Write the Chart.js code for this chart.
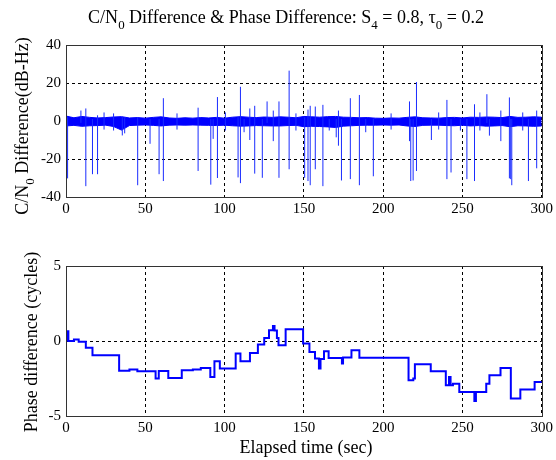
<!DOCTYPE html>
<html lang="en">
<head>
<meta charset="UTF-8" />
<title>C/N0 Difference &amp; Phase Difference</title>
<script src="https://cdn.jsdelivr.net/npm/chart.js"></script>
<style>
  body { margin: 0; background: #fff; font-family: "Liberation Serif", serif; }
  #wrap { position: relative; width: 556px; height: 460px; overflow: hidden; }
  canvas { position: absolute; left: 0; }
  .lbl { position: absolute; white-space: nowrap; color: #000; font-size: 18px; line-height: 1; }
  .center { transform: translate(-50%, -50%); }
  .rot { transform: translate(-50%, -50%) rotate(-90deg); }
  sub { font-size: 0.72em; vertical-align: -0.45em; line-height: 0; }
</style>
</head>
<body>
<div id="wrap">
  <canvas id="cnChart" width="556" height="230" style="top:0"></canvas>
  <canvas id="phaseChart" width="556" height="230" style="top:230px"></canvas>
  <div class="lbl center" style="left:286px; top:17px;">C/N<sub>0</sub> Difference &amp; Phase Difference: S<sub>4</sub> = 0.8, &tau;<sub>0</sub> = 0.2</div>
  <div class="lbl rot" style="left:22px; top:126px;">C/N<sub>0</sub> Difference(dB-Hz)</div>
  <div class="lbl rot" style="left:31px; top:342px;">Phase difference (cycles)</div>
  <div class="lbl center" style="left:306px; top:447px;">Elapsed time (sec)</div>
</div>

<script>
// ---- C/N0 difference: noise band envelope (every 5 s) ----
const bandTime = [0,5,10,15,20,25,30,35,40,45,50,55,60,65,70,75,80,85,90,95,100,105,110,115,120,125,130,135,140,145,150,
  155,160,165,170,175,180,185,190,195,200,205,210,215,220,225,230,235,240,245,250,255,260,265,270,275,280,285,290,295,300];
const bandHi = [2.6,1.7,2.4,1.9,1.6,1.8,2.1,2.3,1.6,1.8,1.5,1.9,2.2,1.6,1.4,1.7,1.5,1.8,1.6,1.9,1.5,2.0,2.3,2.0,1.8,2.1,1.9,2.2,2.0,1.7,2.4,
  2.2,2.0,2.3,2.4,2.0,1.9,1.7,1.8,1.5,1.4,1.6,1.5,1.9,2.2,1.7,1.6,1.5,1.8,1.9,1.6,2.0,1.9,2.1,2.0,1.8,2.4,1.9,2.0,2.2,2.0];
const bandLo = [-2.6,-2.3,-2.8,-2.5,-2.4,-2.2,-2.9,-4.8,-2.4,-2.2,-2.1,-2.3,-2.6,-2.2,-2.1,-2.2,-2.1,-2.2,-2.3,-2.4,-2.2,-2.5,-2.7,-2.6,-2.4,-2.5,-2.6,-2.6,-2.4,-2.3,-3.0,
  -2.8,-2.9,-3.1,-3.4,-2.7,-2.5,-2.3,-2.2,-2.2,-2.1,-2.2,-2.1,-2.6,-2.9,-2.3,-2.2,-2.2,-2.4,-2.5,-2.2,-2.6,-2.4,-2.7,-2.6,-2.4,-3.0,-2.5,-2.6,-2.8,-2.6];

// ---- C/N0 difference: spikes (time, low end, high end) ----
const spikeTime = [1.0,9.4,12.5,16.7,19.9,24.0,30.0,35.5,37.0,45.2,53.0,58.7,61.4,70.0,83.3,91.3,92.8,95.5,100.5,108.5,110.0,112.3,115.9,119.0,
  123.8,126.8,130.7,134.3,140.7,145.0,150.5,152.6,154.0,157.2,162.0,166.0,170.4,171.8,173.7,179.3,185.0,189.0,193.8,205.0,
  216.6,217.4,218.9,221.0,230.4,235.0,240.2,242.8,248.7,252.8,257.6,261.0,265.4,267.0,274.2,279.6,280.4,281.1,288.0,291.6,296.8];
const spikeLo = [-30.2,-1,-34.3,-28,-28,-4.5,-5,-7.6,-6.5,-33.8,-12,-28,-31.6,-4.5,-26.3,-33.5,-9.4,-30,-5,-29.7,-32.7,-5.9,-10,-27.7,
  -29.9,-1,-10.6,-29.9,-25.4,-5,-29.9,-31.6,-33.8,-25.4,-34.3,-5,-8.6,-13,-31.3,-30.6,-33.8,-5.9,-29.1,-4.5,
  -10.6,-31.6,-31.3,-26.3,-10,-4.5,-30.6,-27.1,-5,-30.6,-31.6,-5,-1,-7.7,-10.6,-30.2,-30.6,-33.8,-5,-31.6,-24.9];
const spikeHi = [2,5.5,6.6,1,3,4.5,4,2,1.5,2,1,1,12,4,7,1,1,12.6,4.5,2,18,1,6.6,8,
  1,10.3,5.5,10.3,26.5,4,2,6,8,7.6,8.5,1,1,5.5,1,12,13.7,1,1,4,
  10.3,1,1,20.5,1,4.5,11.1,1,1,1,8.8,4.5,14.1,1,5.5,12.4,1,1,4.5,1,5.5];

// ---- Phase difference: step start times and levels ----
const phaseTime = [0,1,1.5,5,8,12.5,16.7,33.5,40,45,56.5,58.5,64.5,73,80,85,91,93.6,97,107,110,116,121,125,128,130.5,131.5,133,134,138.5,
  149.5,153.5,157,159.5,160.5,162.7,165.6,174,174.7,180,185,216,219,220,230,239.5,241.5,242.5,244,248,257.5,258.5,265,267,274,280.5,286.5,295.5,300];
const phaseVal = [0.05,0.65,0.0,0.1,-0.05,-0.45,-0.95,-1.98,-1.9,-2.02,-2.5,-2.0,-2.47,-1.95,-1.9,-1.8,-2.4,-1.35,-1.84,-0.84,-1.35,-0.8,-0.24,0.2,0.71,1.0,0.7,0.2,-0.29,0.78,
  -0.17,-0.73,-1.17,-1.84,-1.2,-0.69,-1.13,-1.5,-1.1,-0.62,-1.11,-2.62,-2.5,-1.55,-2.02,-2.95,-2.4,-2.95,-2.85,-3.4,-4.0,-3.4,-2.85,-2.29,-1.8,-3.84,-3.24,-2.73,-2.73];

const BLUE = '#0000ff';
const SERIF = '"Liberation Serif", serif';

const boxPlugin = {
    id: 'box',
    afterDraw(chart) {
        const a = chart.chartArea;
        const ctx = chart.ctx;
        ctx.save();
        ctx.strokeStyle = '#333';
        ctx.lineWidth = 1;
        ctx.strokeRect(Math.round(a.left) + 0.5, Math.round(a.top) + 0.5,
            Math.round(a.right - a.left), Math.round(a.bottom - a.top));
        ctx.restore();
    }
};

function axes(yMin, yMax, yStep, xHeight) {
    return {
        x: {
            type: 'linear', min: 0, max: 300,
            afterFit: s => { s.height = xHeight; },
            ticks: { stepSize: 50, color: '#000', font: { family: SERIF, size: 15 }, padding: 3, maxRotation: 0 },
            grid: { color: '#000', lineWidth: 1, drawTicks: false },
            border: { display: false, dash: [3, 3] }
        },
        y: {
            min: yMin, max: yMax,
            afterFit: s => { s.width = 66; },
            ticks: { stepSize: yStep, color: '#000', font: { family: SERIF, size: 15 }, padding: 5 },
            grid: { color: '#000', lineWidth: 1, drawTicks: false },
            border: { display: false, dash: [3, 3] }
        }
    };
}

const baseOpts = {
    responsive: false,
    animation: false,
    plugins: { legend: { display: false }, tooltip: { enabled: false } },
    elements: { point: { radius: 0 } }
};

// top: C/N0 difference
const upper = bandTime.map((t, i) => ({ x: t, y: bandHi[i] }));
const lower = bandTime.map((t, i) => ({ x: t, y: bandLo[i] }));
const spikes = [];
spikeTime.forEach((t, i) => {
    spikes.push({ x: t, y: spikeLo[i] }, { x: t, y: spikeHi[i] }, { x: t, y: null });
});

new Chart(document.getElementById('cnChart'), {
    type: 'line',
    data: {
        datasets: [
            { data: spikes, borderColor: '#1a2cff', borderWidth: 1, spanGaps: false, fill: false },
            { data: upper, borderColor: BLUE, borderWidth: 1, backgroundColor: BLUE, fill: '+1', tension: 0 },
            { data: lower, borderColor: BLUE, borderWidth: 1, fill: false, tension: 0 }
        ]
    },
    options: Object.assign({}, baseOpts, {
        layout: { padding: { left: 0, right: 11, top: 45, bottom: 0 } },
        scales: axes(-40, 40, 20, 33)
    }),
    plugins: [boxPlugin]
});

// bottom: phase difference
const phase = phaseTime.map((t, i) => ({ x: t, y: phaseVal[i] }));

new Chart(document.getElementById('phaseChart'), {
    type: 'line',
    data: {
        datasets: [
            { data: phase, borderColor: BLUE, borderWidth: 2, stepped: 'before', fill: false }
        ]
    },
    options: Object.assign({}, baseOpts, {
        layout: { padding: { left: 0, right: 11, top: 36, bottom: 0 } },
        scales: axes(-5, 5, 5, 44)
    }),
    plugins: [boxPlugin]
});
</script>
</body>
</html>
